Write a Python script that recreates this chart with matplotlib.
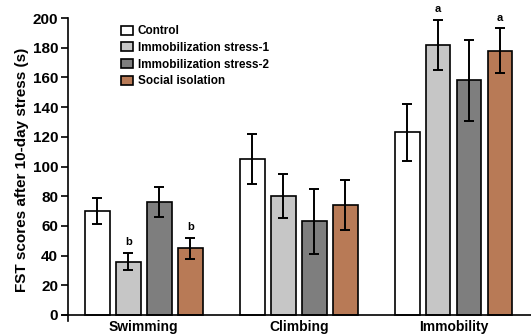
import numpy as np
import matplotlib.pyplot as plt

plt.rcParams['font.family'] = ['Liberation Sans', 'DejaVu Sans']
plt.rcParams['font.weight'] = 'bold'

# data
tests = ["Swimming", "Climbing", "Immobility"]
groups = ["Control", "Immobilization stress-1", "Immobilization stress-2", "Social isolation"]
means = {
    "Control": [70, 105, 123],
    "Immobilization stress-1": [36, 80, 182],
    "Immobilization stress-2": [76, 63, 158],
    "Social isolation": [45, 74, 178],
}
errs = {
    "Control": [9, 17, 19],
    "Immobilization stress-1": [6, 15, 17],
    "Immobilization stress-2": [10, 22, 27],
    "Social isolation": [7, 17, 15],
}
# significance letters: (group, test index, letter)
marks = [("Immobilization stress-1", 0, "b"), ("Social isolation", 0, "b"),
         ("Immobilization stress-1", 2, "a"), ("Social isolation", 2, "a")]

colors = ["#ffffff", "#c6c6c6", "#7e7e7e", "#b87a56"]

fig = plt.figure(figsize=(5.31, 3.35), dpi=100)
ax = fig.add_axes([0.128, 0.042, 0.872, 0.904])

x = np.arange(len(tests))
pitch = 0.2
width = 0.16
for i, g in enumerate(groups):
    pos = x + (i - 1.5) * pitch
    ax.bar(pos, means[g], width, color=colors[i], edgecolor="black", linewidth=1.2,
           label=g, zorder=2)
    ax.errorbar(pos, means[g], yerr=errs[g], fmt="none", ecolor="black",
                elinewidth=1.4, capsize=3.5, capthick=1.4, zorder=3)

for g, t, letter in marks:
    i = groups.index(g)
    xpos = x[t] + (i - 1.5) * pitch
    ytop = means[g][t] + errs[g][t]
    ax.text(xpos, ytop + 4, letter, ha="center", va="bottom", fontsize=8, fontweight="bold")

# baseline sticks out a little to the left, left spine a little below zero
ax.axhline(0, xmin=-0.012, xmax=1, color="black", linewidth=1.2, clip_on=False, zorder=4)

ax.set_xlim(-0.49, 2.5)
ax.set_ylim(-4, 200)
ax.set_yticks(range(0, 201, 20))
ax.set_xticks(x)
ax.set_xticklabels(tests, fontsize=10, fontweight="bold")
ax.tick_params(axis="x", length=0, pad=-1)
ax.tick_params(axis="y", length=5, width=1.2, labelsize=11, pad=2)
for lab in ax.get_yticklabels():
    lab.set_fontweight("bold")
ax.set_ylabel("FST scores after 10-day stress (s)", fontsize=11, fontweight="bold", labelpad=3)

ax.spines["top"].set_visible(False)
ax.spines["right"].set_visible(False)
ax.spines["bottom"].set_visible(False)
ax.spines["left"].set_linewidth(1.2)

ax.legend(loc="upper left", bbox_to_anchor=(0.1, 1.0), frameon=False, fontsize=8.5,
          handlelength=1.0, handleheight=0.8, handletextpad=0.4, labelspacing=0.4,
          borderaxespad=0.2)

fig.savefig("out.png", dpi=100)
